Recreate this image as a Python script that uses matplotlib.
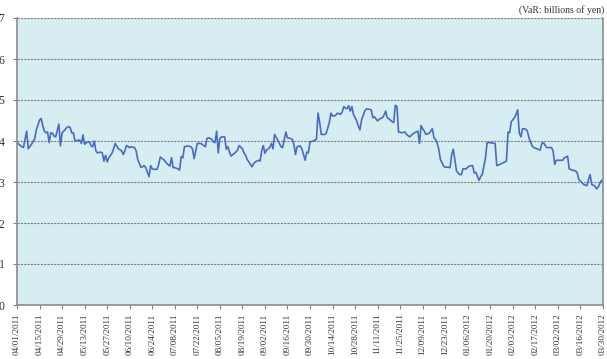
import numpy as np
import pandas as pd
import matplotlib
matplotlib.use("Agg")
import matplotlib.pyplot as plt
import matplotlib.dates as mdates

# days after 04/01/2011 and VaR values (billions of yen)
days = [0, 3, 4, 6, 7, 9, 11, 12, 14, 15, 16, 17, 18, 19, 20, 21, 22, 23, 24, 26,
        27, 28, 29, 31, 32, 33, 34, 35, 36, 38, 39, 40, 41, 42, 43, 45, 46, 47, 48, 49,
        50, 52, 53, 54, 55, 56, 57, 59, 60, 61, 63, 65, 66, 67, 68, 70, 71, 73, 74, 75,
        77, 78, 79, 80, 82, 83, 84, 85, 87, 88, 89, 91, 92, 93, 95, 96, 97, 98, 100, 101,
        102, 103, 104, 106, 108, 109, 110, 111, 112, 114, 115, 117, 118, 119, 121, 122, 123, 124, 125, 126,
        127, 129, 130, 131, 132, 133, 135, 136, 137, 138, 140, 141, 142, 143, 145, 146, 147, 148, 150, 151,
        152, 153, 154, 155, 157, 158, 159, 160, 162, 163, 164, 165, 167, 168, 170, 171, 172, 173, 174, 176,
        177, 179, 180, 181, 182, 184, 185, 186, 187, 188, 189, 191, 192, 194, 195, 196, 197, 198, 199, 201,
        202, 203, 204, 205, 206, 207, 208, 209, 211, 212, 213, 214, 216, 217, 218, 220, 221, 222, 224, 225,
        227, 228, 229, 230, 232, 233, 234, 235, 236, 237, 239, 241, 242, 244, 245, 246, 248, 249, 250, 251,
        252, 253, 254, 256, 257, 258, 259, 260, 261, 262, 263, 264, 265, 266, 268, 269, 270, 271, 273, 274,
        275, 276, 277, 279, 280, 281, 283, 284, 285, 286, 287, 288, 289, 291, 292, 294, 297, 298, 300, 302,
        304, 305, 306, 307, 309, 310, 311, 312, 313, 314, 316, 317, 318, 320, 321, 323, 325, 326, 327, 329,
        330, 332, 333, 334, 335, 337, 339, 340, 342, 343, 345, 347, 348, 349, 351, 352, 354, 355, 356, 357,
        359, 360, 361, 362, 363, 364]
var = [3.96, 3.86, 3.84, 4.24, 3.81, 3.92, 4.06, 4.27, 4.51, 4.55, 4.38, 4.24, 4.20, 4.22, 3.96, 4.20, 4.19, 4.12, 4.10, 4.41,
       3.88, 4.20, 4.24, 4.33, 4.35, 4.33, 4.20, 4.20, 4.00, 4.02, 4.02, 3.94, 4.15, 3.92, 3.96, 3.98, 3.88, 3.86, 4.00, 3.76,
       3.71, 3.73, 3.71, 3.51, 3.65, 3.49, 3.59, 3.70, 3.81, 3.94, 3.81, 3.76, 3.67, 3.76, 3.89, 3.84, 3.86, 3.84, 3.76, 3.55,
       3.36, 3.37, 3.40, 3.35, 3.13, 3.40, 3.32, 3.31, 3.31, 3.43, 3.61, 3.55, 3.51, 3.45, 3.39, 3.59, 3.35, 3.35, 3.32, 3.29,
       3.62, 3.59, 3.86, 3.88, 3.86, 3.81, 3.57, 3.76, 3.94, 3.94, 3.92, 3.86, 4.06, 4.08, 4.04, 3.98, 3.96, 4.24, 3.71, 4.06,
       4.10, 4.10, 3.80, 3.86, 3.73, 3.63, 3.70, 3.73, 3.78, 3.89, 3.81, 3.71, 3.65, 3.55, 3.43, 3.37, 3.45, 3.49, 3.53, 3.51,
       3.76, 3.89, 3.70, 3.78, 3.84, 3.94, 3.81, 4.16, 4.02, 3.94, 3.86, 3.84, 4.22, 4.08, 4.06, 4.04, 3.92, 3.67, 3.86, 3.88,
       3.80, 3.53, 3.73, 3.71, 3.98, 4.00, 4.02, 4.04, 4.68, 4.45, 4.16, 4.16, 4.18, 4.45, 4.68, 4.61, 4.61, 4.63, 4.68, 4.65,
       4.71, 4.84, 4.80, 4.79, 4.86, 4.73, 4.84, 4.65, 4.49, 4.37, 4.27, 4.51, 4.73, 4.78, 4.78, 4.76, 4.57, 4.59, 4.49, 4.53,
       4.57, 4.63, 4.73, 4.57, 4.51, 4.47, 4.45, 4.87, 4.84, 4.22, 4.20, 4.22, 4.16, 4.10, 4.14, 4.18, 4.22, 4.24, 3.94, 4.38,
       4.30, 4.24, 4.16, 4.19, 4.24, 4.30, 4.08, 4.04, 3.94, 3.80, 3.55, 3.47, 3.39, 3.36, 3.36, 3.35, 3.67, 3.80, 3.27, 3.22,
       3.18, 3.18, 3.32, 3.32, 3.36, 3.39, 3.40, 3.22, 3.24, 3.14, 3.04, 3.13, 3.18, 3.59, 3.96, 3.96, 3.94, 3.40, 3.43, 3.47,
       3.51, 4.22, 4.20, 4.47, 4.57, 4.65, 4.76, 4.20, 4.10, 4.30, 4.29, 4.24, 4.08, 3.88, 3.84, 3.81, 3.78, 3.94, 3.96, 3.84,
       3.84, 3.84, 3.76, 3.43, 3.53, 3.53, 3.53, 3.59, 3.63, 3.32, 3.29, 3.27, 3.22, 3.06, 2.98, 2.94, 2.91, 3.06, 3.18, 2.94,
       2.90, 2.83, 2.88, 2.96, 3.04, 3.02]

start = pd.Timestamp("2011-04-01")
end = pd.Timestamp("2012-03-30")
dates = start + pd.to_timedelta(days, unit="D")
tick_dates = pd.date_range(start, end, freq="14D")

plt.rcParams["font.family"] = ["Liberation Serif", "DejaVu Serif"]

fig = plt.figure(figsize=(6.07, 3.59), dpi=100)
ax = fig.add_axes([17 / 607, 1 - 305 / 359, 586 / 607, 287 / 359])
ax.set_facecolor("#d6edf2")

ax.plot(dates, var, color="#4a6bc2", linewidth=1.2)

ax.set_xlim(start, end)
ax.set_ylim(0, 7)
ax.set_yticks(range(0, 8))
ax.set_xticks(tick_dates)
ax.xaxis.set_major_formatter(mdates.DateFormatter("%m/%d/%Y"))
plt.setp(ax.get_xticklabels(), rotation=90, fontsize=6.6, color="#333333")
plt.setp(ax.get_yticklabels(), fontsize=8.5, color="#333333")
ax.tick_params(axis="x", length=3, color="#808080", pad=3)
ax.tick_params(axis="y", length=3, color="#808080", pad=6)

ax.grid(axis="y", linestyle=(0, (2, 1)), color="#7f7f7f", linewidth=0.8)
ax.set_axisbelow(True)
for side in ["left", "bottom", "right"]:
    ax.spines[side].set_color("#8c8c8c")
    ax.spines[side].set_linewidth(1.2)
ax.spines["top"].set_visible(False)

fig.text(0.995, 0.985, "(VaR: billions of yen)", ha="right", va="top", fontsize=7, color="#333333")

fig.savefig("out.png", dpi=100)
